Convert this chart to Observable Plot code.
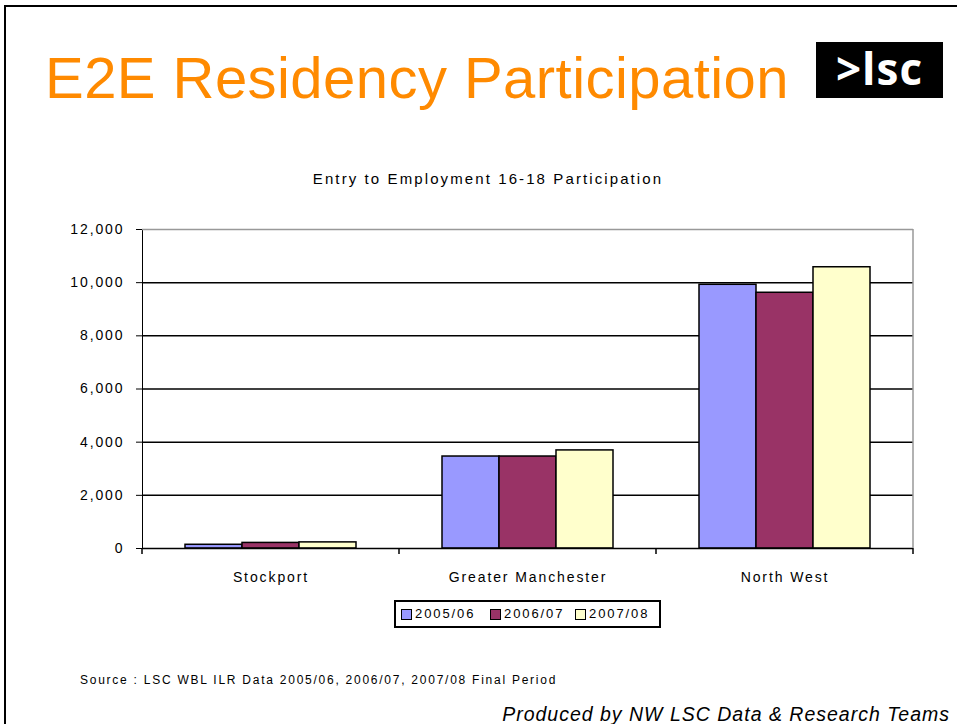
<!DOCTYPE html>
<html>
<head>
<meta charset="utf-8">
<script src="https://cdn.jsdelivr.net/npm/d3@7"></script>
<script src="https://cdn.jsdelivr.net/npm/@observablehq/plot@0.6"></script>
<style>
  html, body { margin: 0; padding: 0; background: #fff; }
  #page { position: relative; width: 957px; height: 724px; overflow: hidden; font-family: "Liberation Sans", Arial, sans-serif; }
  #frame { position: absolute; left: 4px; top: 5px; width: 960px; height: 730px; border-left: 2px solid #000; border-top: 2px solid #000; z-index: 3; pointer-events: none; }
  #chart { position: absolute; left: 0; top: 0; z-index: 1; }
  .abs { position: absolute; z-index: 2; white-space: nowrap; }
  #title { left: 45px; top: 49px; font-size: 58px; letter-spacing: 0.45px; color: #FF8A00; line-height: 1; }
  #logo { left: 816px; top: 42px; width: 127px; height: 56px; background: #000; color: #fff; font-family: "Open Sans", sans-serif; font-size: 44px; font-weight: 700; text-align: center; line-height: 52px; letter-spacing: 1px; }
  #subtitle { left: 0; width: 976px; top: 170px; text-align: center; font-size: 15px; letter-spacing: 2.1px; color: #000; }
  #legend { left: 394px; top: 600px; width: 263px; height: 24px; border: 2px solid #000; font-size: 13px; letter-spacing: 1.9px; }
  .sw { position: absolute; top: 7px; width: 9px; height: 9px; border: 1px solid #000; }
  .lt { position: absolute; top: 4px; }
  #source { left: 80px; top: 673px; font-size: 12px; letter-spacing: 1.75px; }
  #produced { right: 7px; top: 703px; font-size: 19.5px; font-style: italic; letter-spacing: 1px; }
</style>
</head>
<body>
<div id="page">
  <div id="frame"></div>
  <div id="chart"></div>
  <div class="abs" id="title">E2E Residency Participation</div>
  <div class="abs" id="logo">&gt;lsc</div>
  <div class="abs" id="subtitle">Entry to Employment 16-18 Participation</div>
  <div class="abs" id="legend"></div>
  <div class="abs" id="source">Source : LSC WBL ILR Data 2005/06, 2006/07, 2007/08 Final Period</div>
  <div class="abs" id="produced">Produced by NW LSC Data &amp; Research Teams</div>
</div>
<script>
const regions = ["Stockport", "Greater Manchester", "North West"];
const years = ["2005/06", "2006/07", "2007/08"];
const values0506 = [140, 3460, 9920];
const values0607 = [210, 3460, 9620];
const values0708 = [230, 3690, 10580];
const yTicks = [0, 2000, 4000, 6000, 8000, 10000, 12000];
const colors = ["#9999FF", "#993366", "#FFFFCC"];

const series = [values0506, values0607, values0708];
const data = regions.flatMap((r, i) => years.map((y, j) => ({region: r, year: y, value: series[j][i]})));

const plot = Plot.plot({
  width: 957,
  height: 724,
  marginTop: 229,
  marginBottom: 176,
  marginLeft: 142,
  marginRight: 44,
  style: {background: "transparent", fontFamily: "'Liberation Sans', Arial, sans-serif", fontSize: "14px", letterSpacing: "1.9px", color: "#000"},
  facet: {data, x: "region"},
  fx: {domain: regions, padding: 0, label: null, tickSize: 0, tickPadding: 24},
  x: {domain: years, axis: null, paddingInner: 0, paddingOuter: 0.72},
  y: {domain: [0, 12000], ticks: yTicks, tickFormat: d => d.toLocaleString("en-US"), tickSize: 6, tickPadding: 12, line: true, label: null},
  color: {domain: years, range: colors},
  marks: [
    Plot.ruleY(yTicks.filter(t => t > 0 && t < 12000), {stroke: "#000", strokeWidth: 1.5}),
    Plot.ruleY([12000], {stroke: "#999", strokeWidth: 1.5}),
    Plot.barY(data, {x: "year", y: "value", fill: "year", stroke: "#000", strokeWidth: 1.5}),
    Plot.ruleY([0], {stroke: "#000", strokeWidth: 1.5})
  ]
});
document.getElementById("chart").appendChild(plot);

// structural lines from the plot's own scales
const fx = plot.scale("fx"), ys = plot.scale("y");
const y0 = ys.apply(0), yTop = ys.apply(12000);
const starts = regions.map(r => fx.apply(r));
const bounds = [...starts, starts[starts.length - 1] + fx.bandwidth];
const svg = d3.select(plot);
svg.append("line").attr("x1", bounds[bounds.length - 1]).attr("x2", bounds[bounds.length - 1])
  .attr("y1", yTop).attr("y2", y0).attr("stroke", "#999").attr("stroke-width", 1.5);
svg.append("g").selectAll("line").data(bounds).join("line")
  .attr("x1", d => d).attr("x2", d => d).attr("y1", y0).attr("y2", y0 + 6)
  .attr("stroke", "#000").attr("stroke-width", 1.5);

// legend
const legend = d3.select("#legend");
const swX = [5, 94, 179], txtX = [19, 108, 193];
years.forEach((y, i) => {
  legend.append("div").attr("class", "sw").style("left", swX[i] + "px").style("background", colors[i]);
  legend.append("span").attr("class", "lt").style("left", txtX[i] + "px").text(y);
});
</script>
</body>
</html>
